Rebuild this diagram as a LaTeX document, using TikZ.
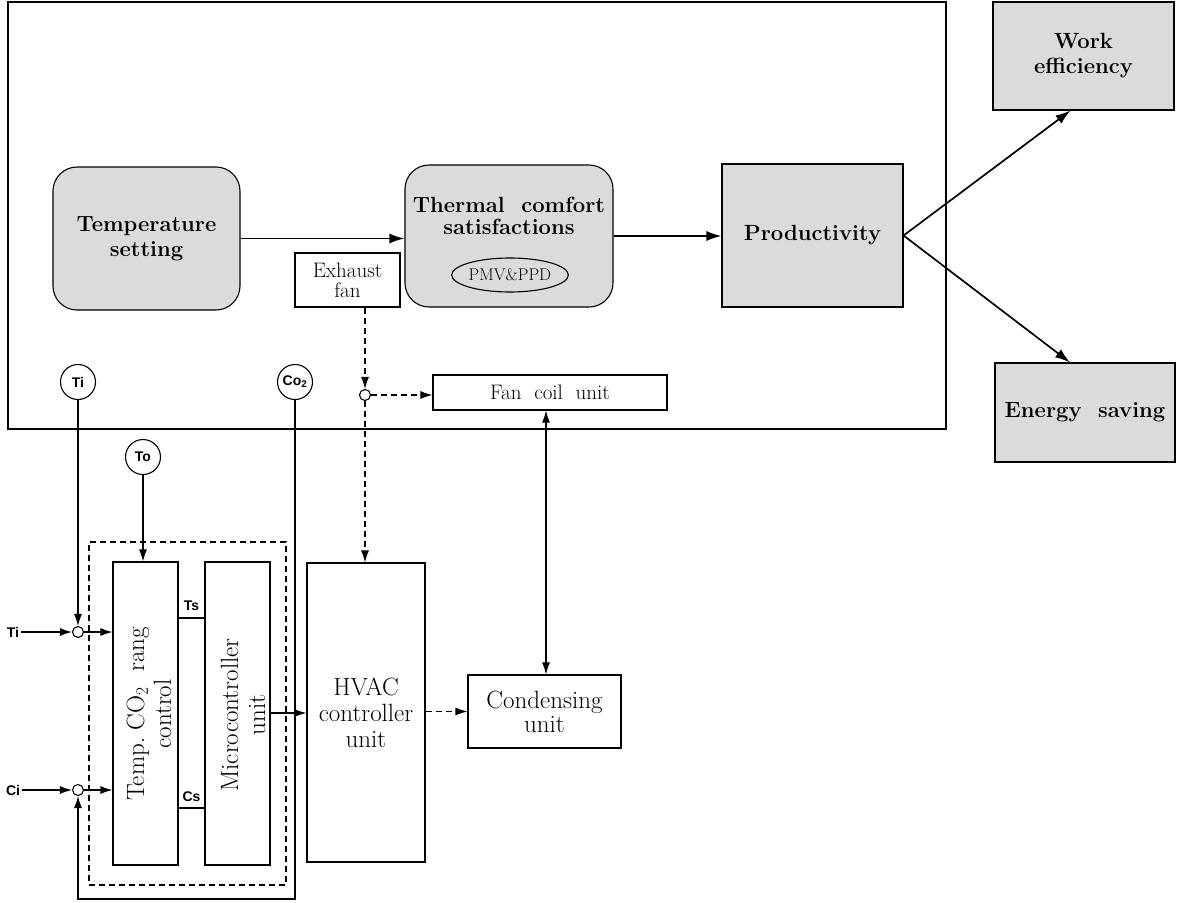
\documentclass[tikz,border=0pt]{standalone}
\usepackage{fontspec}
\newfontfamily\lblfont{Liberation Sans}
\usetikzlibrary{arrows.meta,shapes.geometric}
\begin{document}
\begin{tikzpicture}[x=1pt,y=-1pt,
  line width=1.1pt,
  arr/.style={-{Latex[length=12pt,width=8pt]}},
  bigarr/.style={line width=1.7pt,-{Latex[length=15pt,width=10pt]}},
  dsh/.style={dash pattern=on 6pt off 4pt},
  box/.style={draw, inner sep=0pt, align=center, font=\fontsize{25}{26}\selectfont},
  gbox/.style={box, fill=black!14, font=\fontsize{22}{25}\selectfont\bfseries},
  rbox/.style={gbox, rounded corners=24pt},
  circ/.style={draw, circle, minimum size=35pt, inner sep=0pt, font=\lblfont\bfseries\fontsize{14}{16}\selectfont},
  jn/.style={draw, circle, minimum size=11pt, inner sep=0pt, fill=white},
  lbl/.style={font=\lblfont\bfseries\fontsize{14}{16}\selectfont, inner sep=1pt}
]
\useasboundingbox (0,0) rectangle (1183,902);

% room frame
\node[draw, inner sep=0pt, minimum width=938pt, minimum height=427pt] (room) at (477,215.5) {};

% upper blocks
\node[rbox, minimum width=187pt, minimum height=143pt] (tset) at (146.5,238.5) {Temperature\\setting};
\node[rbox, minimum width=208pt, minimum height=142pt] (thermal) at (509,236) {};
\node[font=\fontsize{22}{22}\selectfont\bfseries, align=center, inner sep=0pt] (thtext) at (509,216) {Thermal\ \ comfort\\satisfactions};
\node[draw, ellipse, minimum width=104pt, minimum height=34pt, inner sep=0pt, font=\fontsize{17}{19}\selectfont] (pmv) at (510,275) {PMV\&PPD};
\node[gbox, minimum width=181pt, minimum height=143pt] (prod) at (812.5,235.5) {Productivity};
\node[gbox, minimum width=181pt, minimum height=108pt] (work) at (1083.5,56) {Work\\efficiency};
\node[gbox, minimum width=180pt, minimum height=99pt] (energy) at (1085,412.5) {Energy\ \ saving};

\node[box, minimum width=105pt, minimum height=54pt, font=\fontsize{21}{20}\selectfont] (exh) at (347.5,280) {Exhaust\\fan};
\node[box, minimum width=234pt, minimum height=35pt, font=\fontsize{21}{20}\selectfont] (fc) at (550,392.5) {Fan\ \ coil\ \ unit};

% sensors
\node[circ] (ti) at (78,382) {Ti};
\node[circ] (co2) at (295,382) {Co\textsubscript{2}};
\node[circ] (to) at (143,457) {To};

% lower blocks
\node[draw, dsh, inner sep=0pt, minimum width=197pt, minimum height=343pt] (ctrl) at (187.5,713.5) {};
\node[box, minimum width=65pt, minimum height=303pt] (tmp) at (145.5,713.5) {};
\node[rotate=90, align=center, inner sep=0pt, font=\fontsize{25}{27}\selectfont] (tmptext) at (149,714) {Temp.\ CO$_2$\ \ rang\\control};
\node[box, minimum width=65pt, minimum height=303pt] (mc) at (237.5,713.5) {};
\node[rotate=90, align=center, inner sep=0pt, font=\fontsize{25}{27}\selectfont] (mctext) at (243,715) {Microcontroller\\unit};
\node[box, minimum width=118pt, minimum height=299pt, font=\fontsize{25}{26}\selectfont] (hvac) at (366,712.5) {HVAC\\controller\\unit};
\node[box, minimum width=153pt, minimum height=73pt, font=\fontsize{25}{24}\selectfont] (cond) at (544.5,711.5) {Condensing\\unit};

\node[lbl] (ts) at (191.5,606) {Ts};
\node[lbl] (cs) at (191.5,797) {Cs};
\node[lbl] (tiin) at (13,632) {Ti};
\node[lbl] (ciin) at (13,790) {Ci};
\node[jn] (j1) at (78,632) {};
\node[jn] (j2) at (78,790) {};
\node[jn] (ej) at (365,395) {};

\coordinate (tsy) at (0,618);
\coordinate (csy) at (0,808);
\coordinate (mcy) at (0,713);
\coordinate (boty) at (0,899);
\coordinate (fcx) at (546,0);

% upper connectors
\draw[bigarr] (tset.east) -- (thermal.west|-tset.east);
\draw[bigarr] (thermal.east) -- (prod.west|-thermal.east);
\draw[bigarr] (prod.east) -- ([xshift=-13pt]work.south);
\draw[bigarr] (prod.east) -- ([xshift=-15pt]energy.north);

% exhaust / fan coil
\draw[arr,dsh] (exh.south-|ej) -- (ej.north);
\draw[arr,dsh] (ej.east) -- (fc.west|-ej);
\draw[arr,dsh] (ej.south) -- (hvac.north-|ej);
\draw[{Latex[length=12pt,width=8pt]}-{Latex[length=12pt,width=8pt]}] (fc.south-|fcx) -- (cond.north-|fcx);

% sensor lines
\draw[arr] (ti.south) -- (j1.north);
\draw[arr] (to.south) -- (tmp.north-|to);
\draw[arr] (tiin.east) -- (j1.west);
\draw[arr] (j1.east) -- (tmp.west|-j1);
\draw[arr] (ciin.east) -- (j2.west);
\draw[arr] (j2.east) -- (tmp.west|-j2);
\draw[arr] (co2.south) -- (co2.south|-boty) -- (j2.south|-boty) -- (j2.south);

% internal links
\draw (tmp.east|-tsy) -- (mc.west|-tsy);
\draw (tmp.east|-csy) -- (mc.west|-csy);
\draw[arr] (mc.east|-mcy) -- (hvac.west|-mcy);
\draw[arr,dsh] (hvac.east|-cond) -- (cond.west);
\end{tikzpicture}
\end{document}
